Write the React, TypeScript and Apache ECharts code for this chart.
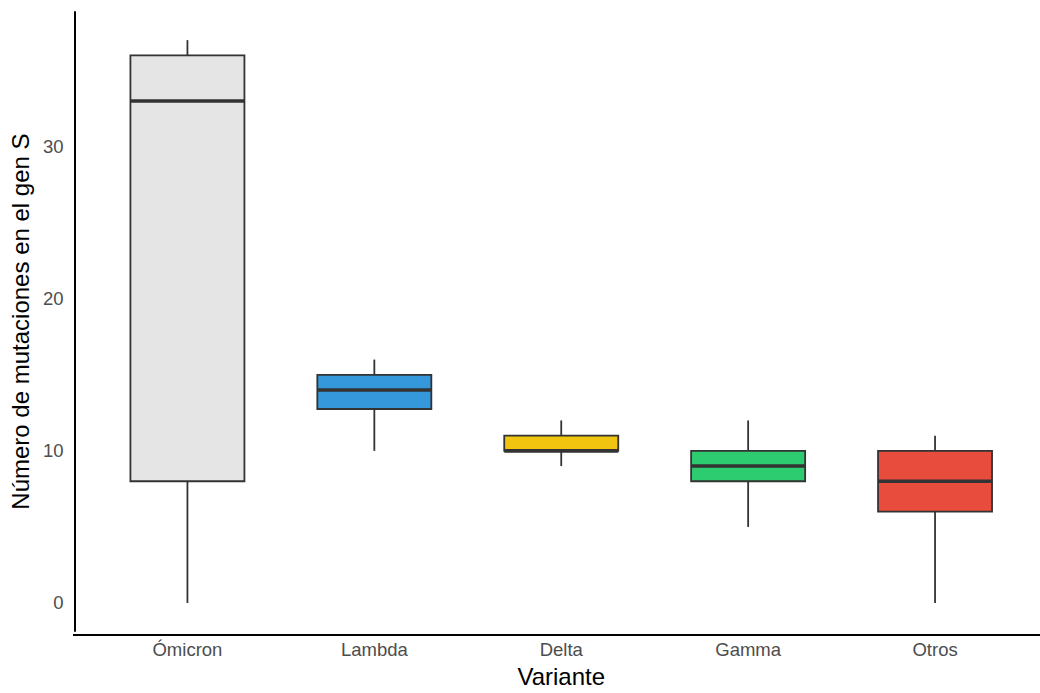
import React, { useEffect, useRef } from "react";
import * as echarts from "echarts";

const categories = ["Ómicron", "Lambda", "Delta", "Gamma", "Otros"];
const mins = [0, 10, 9, 5, 0];
const q1s = [8, 12.75, 10, 8, 6];
const medians = [33, 14, 10, 9, 8];
const q3s = [36, 15, 11, 10, 10];
const maxs = [37, 16, 12, 12, 11];
const fills = ["#E5E5E5", "#3498DB", "#F1C40F", "#2ECC71", "#E74C3C"];
const yTicks = [0, 10, 20, 30];

const FONT = "'Liberation Sans', Arial, sans-serif";

export default function App() {
  const ref = useRef<HTMLDivElement>(null);
  useEffect(() => {
    if (!ref.current) return;
    const chart = echarts.init(ref.current, null, { renderer: "svg" });
    const data = categories.map((c, i) => [i, mins[i], q1s[i], medians[i], q3s[i], maxs[i]]);
    const stroke = "#333333";
    chart.setOption({
      animation: false,
      backgroundColor: "#ffffff",
      grid: { left: 93.5, right: 11.5, top: 12, bottom: 58 },
      xAxis: {
        type: "category",
        data: categories,
        boundaryGap: true,
        axisLine: { show: false },
        axisTick: { show: false },
        axisLabel: { color: "#4D4D4D", fontSize: 18.5, fontFamily: FONT, margin: 9 },
        name: "Variante",
        nameLocation: "middle",
        nameGap: 32,
        nameTextStyle: { color: "#000000", fontSize: 24, fontFamily: FONT },
        splitLine: { show: false },
      },
      yAxis: {
        type: "value",
        min: -1.85,
        max: 38.85,
        offset: 19.5,
        axisLine: { show: true, lineStyle: { color: "#000000", width: 2 } },
        axisTick: { show: false },
        splitLine: { show: false },
        axisLabel: {
          color: "#4D4D4D",
          fontSize: 18.5,
          fontFamily: FONT,
          margin: 11,
          showMinLabel: false,
          showMaxLabel: false,
          formatter: (v: number) => (yTicks.includes(Math.round(v * 100) / 100) ? String(v) : ""),
        },
        name: "Número de mutaciones en el gen S",
        nameLocation: "middle",
        nameGap: 38,
        nameTextStyle: { color: "#000000", fontSize: 24, fontFamily: FONT },
      },
      graphic: [
        {
          type: "line",
          shape: { x1: 73, y1: 635, x2: 1040, y2: 635 },
          style: { stroke: "#000000", lineWidth: 2 },
          z: 10,
        },
      ],
      series: [
        {
          type: "custom",
          data,
          encode: { x: 0, y: [1, 2, 3, 4, 5] },
          renderItem: (params: any, api: any) => {
            const idx = api.value(0);
            const band = api.size([1, 0])[0];
            const w = band * 0.61;
            const pMin = api.coord([idx, api.value(1)]);
            const pQ1 = api.coord([idx, api.value(2)]);
            const pMed = api.coord([idx, api.value(3)]);
            const pQ3 = api.coord([idx, api.value(4)]);
            const pMax = api.coord([idx, api.value(5)]);
            const x = pQ1[0];
            return {
              type: "group",
              children: [
                {
                  type: "line",
                  shape: { x1: x, y1: pMin[1], x2: x, y2: pQ1[1] },
                  style: { stroke, lineWidth: 1.8 },
                },
                {
                  type: "line",
                  shape: { x1: x, y1: pQ3[1], x2: x, y2: pMax[1] },
                  style: { stroke, lineWidth: 1.8 },
                },
                {
                  type: "rect",
                  shape: { x: x - w / 2, y: pQ3[1], width: w, height: pQ1[1] - pQ3[1] },
                  style: { fill: fills[idx], stroke, lineWidth: 1.8 },
                },
                {
                  type: "line",
                  shape: { x1: x - w / 2, y1: pMed[1], x2: x + w / 2, y2: pMed[1] },
                  style: { stroke, lineWidth: 3.6 },
                },
              ],
            };
          },
        },
      ],
    });
    return () => chart.dispose();
  }, []);
  return (
    <div
      ref={ref}
      style={{ position: "absolute", left: 0, top: 0, width: 1040, height: 693, background: "#fff" }}
    />
  );
}
